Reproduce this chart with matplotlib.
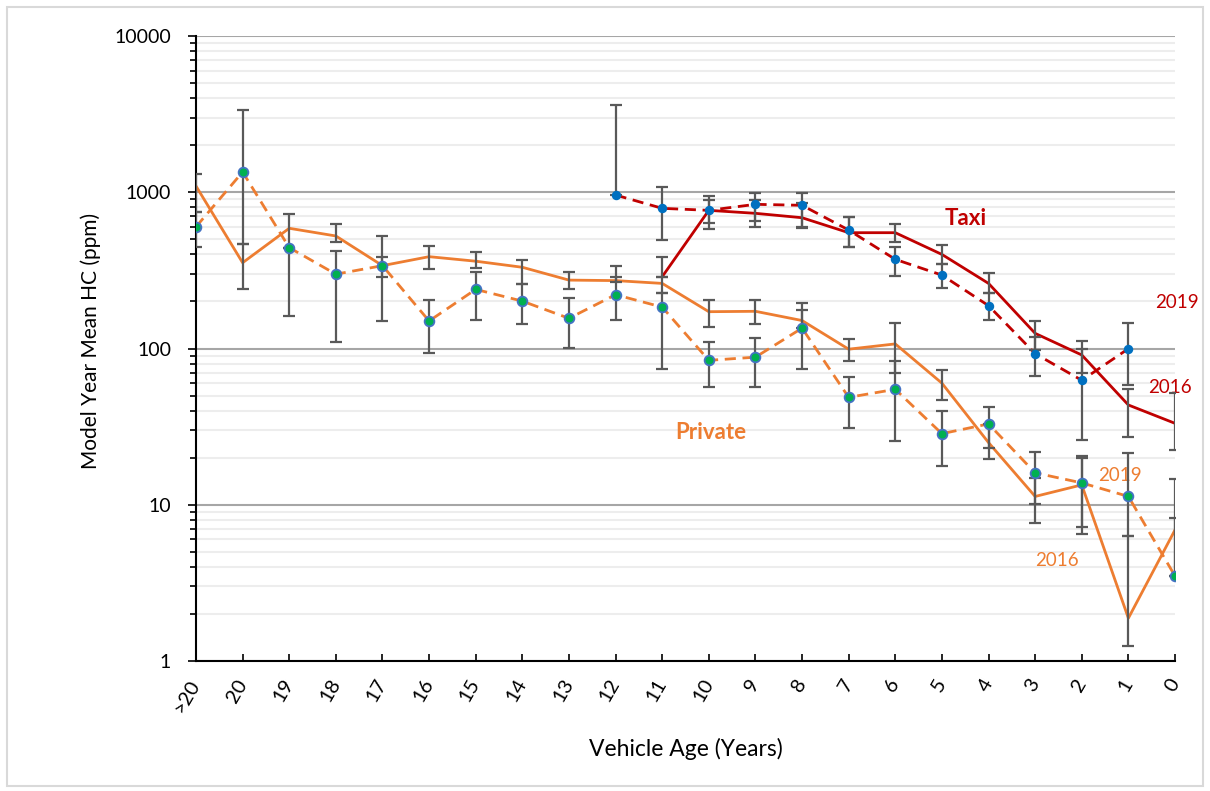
import numpy as np
import matplotlib
matplotlib.use("Agg")
import matplotlib.pyplot as plt
from matplotlib.patches import Rectangle

plt.rcParams['font.family'] = ['Lato', 'DejaVu Sans']

# Vehicle age categories
categories = [">20", "20", "19", "18", "17", "16", "15", "14", "13", "12", "11",
              "10", "9", "8", "7", "6", "5", "4", "3", "2", "1", "0"]

# Private fleet, model year mean HC (ppm)
private_2016 = [1096, 354, 588, 525, 339, 387, 362, 331, 274, 272, 261,
                172, 173, 151, 99, 107, 60, 25, 11.3, 13.4, 1.88, 6.9]
private_2016_lo = [753, 242, 442, 480, 288, 322, 327, 258, 239, 266, 228,
                   138, 143, 135, 83, 70, 46.7, 19.5, 7.6, 7.2, 1.25, 3.5]
private_2016_hi = [1310, 468, 728, 628, 387, 453, 414, 370, 310, 337, 387,
                   204, 204, 177, 115, 145.6, 72.7, 32.9, 14.8, 19.8, 6.3, 14.6]

private_2019 = [601, 1348, 442, 299, 339, 150, 239, 201, 156, 221, 184,
                84, 88, 135, 48.7, 54.8, 28.5, 32.9, 16.0, 13.8, 11.3, 3.5]
private_2019_lo = [443, 468, 161, 110.7, 150, 94, 152, 144, 101, 152, 74,
                   57, 57, 74, 30.9, 25.7, 17.7, 23, 10.1, 6.5, 6.3, 3.5]
private_2019_hi = [753, 3385, 442, 420, 526, 205, 310, 258, 210, 288, 228,
                   110, 116, 196, 66, 83.6, 39.7, 42.4, 21.8, 20.4, 21.3, 8.2]

# Taxi fleet
N = None
taxi_2016 = [N, N, N, N, N, N, N, N, N, N, 288,
             766, 733, 687, 551, 551, 400, 261, 125, 90.9, 43.5, 33.2]
taxi_2016_lo = [N, N, N, N, N, N, N, N, N, N, 288,
                580, 600, 600, 449, 480, 346, 226, 97.6, 70, 27.3, 22.4]
taxi_2016_hi = [N, N, N, N, N, N, N, N, N, N, 288,
                949, 886, 851, 694, 628, 459, 303, 150, 112, 54.7, 51.6]

taxi_2019 = [N, N, N, N, N, N, N, N, N, 960, 789,
             766, 837, 825, 573, 372, 295, 188, 92.7, 62.6, 99.7, N]
taxi_2019_lo = [N, N, N, N, N, N, N, N, N, 960, 496,
                634, 655, 589, 449, 290, 243, 152, 66.5, 25.9, 58.8, N]
taxi_2019_hi = [N, N, N, N, N, N, N, N, N, 3620, 1075,
                886, 985, 985, 694, 449, 346, 226, 119, 99, 145.6, N]

ORANGE = '#ED7D31'
RED = '#C00000'
ERR = '#595959'

fig = plt.figure(figsize=(12.1, 7.91), dpi=100)
ax = fig.add_axes([196 / 1210, 130 / 791, 979 / 1210, 625 / 791])
fig.patches.append(Rectangle((7 / 1210, 5 / 791), 1196 / 1210, 779 / 791,
                             transform=fig.transFigure, fill=False,
                             edgecolor='#D9D9D9', lw=1.5))

x = np.arange(len(categories))


def arr(v):
    return np.array([np.nan if a is None else a for a in v], dtype=float)


def series(vals, lo, hi, color, dashed, marker_face=None, marker_edge=None, ms=6.5):
    v, l, h = arr(vals), arr(lo), arr(hi)
    m = ~np.isnan(v)
    ls = (0, (4, 2.4)) if dashed else '-'
    ax.plot(x[m], v[m], color=color, lw=2.0, ls=ls, zorder=3)
    err = [np.clip(v[m] - l[m], 0, None), np.clip(h[m] - v[m], 0, None)]
    ax.errorbar(x[m], v[m], yerr=err, fmt='none',
                ecolor=ERR, elinewidth=1.6, capsize=4.5, capthick=1.6, zorder=4)
    if marker_face is not None:
        ax.plot(x[m], v[m], ls='none', marker='o', ms=ms, mfc=marker_face,
                mec=marker_edge, mew=1.3, zorder=5)


series(private_2016, private_2016_lo, private_2016_hi, ORANGE, False)
series(taxi_2016, taxi_2016_lo, taxi_2016_hi, RED, False)
series(private_2019, private_2019_lo, private_2019_hi, ORANGE, True,
       '#00B050', '#4472C4', 7)
series(taxi_2019, taxi_2019_lo, taxi_2019_hi, RED, True,
       '#0070C0', '#0070C0', 5.5)

ax.set_yscale('log')
ax.set_ylim(1, 10000)
ax.set_xlim(0, len(categories) - 1)
ax.set_yticks([1, 10, 100, 1000, 10000])
ax.set_yticklabels(['1', '10', '100', '1000', '10000'])
ax.grid(True, which='major', axis='y', color='#A6A6A6', lw=1.5, zorder=0)
ax.grid(True, which='minor', axis='y', color='#EDEDED', lw=1.5, zorder=0)
ax.set_axisbelow(True)

ax.set_xticks(x)
ax.set_xticklabels(categories, rotation=60, ha='right', va='center',
                   rotation_mode='anchor')
ax.tick_params(axis='x', direction='in', length=5, width=1.2, labelsize=14.5, pad=14)
ax.tick_params(axis='y', which='major', direction='out', length=6, width=1.2,
               labelsize=14, pad=12)
ax.tick_params(axis='y', which='minor', direction='out', length=4, width=1.2,
               labelleft=False)

for s in ['top', 'right']:
    ax.spines[s].set_visible(False)
for s in ['left', 'bottom']:
    ax.spines[s].set_linewidth(1.5)
    ax.spines[s].set_color('black')

ax.set_xlabel('Vehicle Age (Years)', fontsize=16.5)
ax.xaxis.set_label_coords(0.5, -0.123)
ax.set_ylabel('Model Year Mean HC (ppm)', fontsize=15)
ax.yaxis.set_label_coords(-0.097, 0.512)

ax.text(16.52, 684, 'Taxi', color=RED, fontsize=16, fontweight='bold',
        ha='center', va='center')
ax.text(11.05, 29.2, 'Private', color=ORANGE, fontsize=16, fontweight='bold',
        ha='center', va='center')
ax.text(21.04, 198, '2019', color=RED, fontsize=13.5, ha='center', va='center')
ax.text(20.89, 56.7, '2016', color=RED, fontsize=13.5, ha='center', va='center')
ax.text(19.82, 15.5, '2019', color=ORANGE, fontsize=13.5, ha='center', va='center')
ax.text(18.47, 4.37, '2016', color=ORANGE, fontsize=13.5, ha='center', va='center')

fig.savefig('out.png', dpi=100)
